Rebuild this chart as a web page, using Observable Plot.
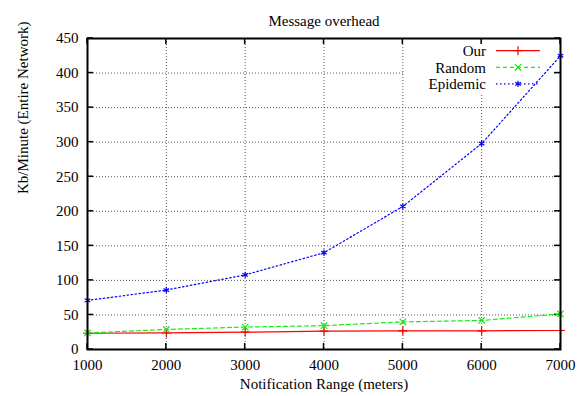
<!DOCTYPE html>
<html><head><meta charset="utf-8">
<script src="https://cdn.jsdelivr.net/npm/d3@7"></script>
<script src="https://cdn.jsdelivr.net/npm/@observablehq/plot@0.6"></script>
<style>body{margin:0;background:#fff} svg{display:block}</style>
</head><body><div id="chart"></div>
<script>
const ranges = [1000, 2000, 3000, 4000, 5000, 6000, 7000];
const our = [23.5, 24, 25, 26.5, 27, 27, 27.5];
const random = [24, 29, 32.5, 34.5, 40, 42, 51.5];
const epidemic = [71, 86, 108, 140, 207, 298, 425];
const seriesNames = ["Our", "Random", "Epidemic"];
const xTicks = [1000, 2000, 3000, 4000, 5000, 6000, 7000];
const yTicks = [0, 50, 100, 150, 200, 250, 300, 350, 400, 450];
const title = "Message overhead";
const xLabel = "Notification Range (meters)";
const yLabel = "Kb/Minute (Entire Network)";

const seriesValues = [our, random, epidemic];
const colors = ["#ff0000", "#11ee11", "#0000ff"];
const dashes = [null, "4,3", "1.5,2.5"];
const symbols = ["plus", "times", "asterisk"];

const data = seriesNames.flatMap((s, i) => ranges.map((x, j) => ({series: s, x, y: seriesValues[i][j]})));

const FONT = "Liberation Serif, Times New Roman, serif";

function keyMask(index, scales, values, dim) {
  const g = d3.create("svg:g");
  const right = dim.width - dim.marginRight, top = dim.marginTop;
  g.append("rect").attr("x", right - 155).attr("y", top + 5).attr("width", 150).attr("height", 50).attr("fill", "white");
  return g.node();
}

function ticksMark(index, scales, values, dim) {
  const g = d3.create("svg:g").attr("stroke", "black").attr("stroke-width", 1.5);
  const L = dim.marginLeft, R = dim.width - dim.marginRight, T = dim.marginTop, B = dim.height - dim.marginBottom;
  const len = 6;
  for (const v of xTicks) {
    const x = scales.x(v);
    g.append("line").attr("x1", x).attr("x2", x).attr("y1", B).attr("y2", B - len);
    g.append("line").attr("x1", x).attr("x2", x).attr("y1", T).attr("y2", T + len);
  }
  for (const v of yTicks) {
    const y = scales.y(v);
    g.append("line").attr("x1", L).attr("x2", L + len).attr("y1", y).attr("y2", y);
    g.append("line").attr("x1", R).attr("x2", R - len).attr("y1", y).attr("y2", y);
  }
  return g.node();
}

function legendMark(index, scales, values, dim) {
  const g = d3.create("svg:g");
  const right = dim.width - dim.marginRight, top = dim.marginTop;
  seriesNames.forEach((s, i) => {
    const cy = top + 12.7 + i * 16.6;
    g.append("text").attr("x", right - 74).attr("y", cy).attr("dy", "0.35em")
      .attr("text-anchor", "end").attr("font-family", FONT).attr("font-size", 15).attr("fill", "black").text(s);
    const ln = g.append("line").attr("x1", right - 64).attr("x2", right - 20).attr("y1", cy).attr("y2", cy)
      .attr("stroke", colors[i]).attr("stroke-width", 1.2);
    if (dashes[i]) ln.attr("stroke-dasharray", dashes[i]);
    const sym = {plus: d3.symbolPlus, times: d3.symbolTimes, asterisk: d3.symbolAsterisk}[symbols[i]];
    g.append("path").attr("transform", `translate(${right - 42},${cy})`)
      .attr("d", d3.symbol(sym, 3 * 3 * Math.PI)()).attr("fill", "none").attr("stroke", colors[i]).attr("stroke-width", 1.2);
  });
  return g.node();
}

const marks = [
  Plot.ruleX(xTicks.slice(1, -1), {stroke: "#555", strokeDasharray: "1,2", strokeWidth: 1}),
  Plot.ruleY(yTicks.slice(1, -1), {stroke: "#555", strokeDasharray: "1,2", strokeWidth: 1}),
  keyMask,
  ticksMark
];
seriesNames.forEach((s, i) => {
  const d = data.filter(r => r.series === s);
  marks.push(Plot.line(d, {x: "x", y: "y", stroke: colors[i], strokeWidth: 1.2, strokeDasharray: dashes[i] ?? undefined}));
  marks.push(Plot.dot(d, {x: "x", y: "y", symbol: () => symbols[i], r: 3, stroke: colors[i], strokeWidth: 1.2, fill: "none"}));
});
marks.push(
  legendMark,
  Plot.frame({stroke: "black", strokeWidth: 2}),
  Plot.axisX(xTicks, {tickSize: 0, tickPadding: 10, fontSize: 15, label: null, tickFormat: d3.format("d")}),
  Plot.axisY(yTicks, {tickSize: 0, tickPadding: 9, fontSize: 15, label: null, tickFormat: d3.format("d")}),
  Plot.text([title], {text: d => d, frameAnchor: "top", dy: -23, fontSize: 15}),
  Plot.text([xLabel], {text: d => d, frameAnchor: "bottom", dy: 39, fontSize: 15}),
  Plot.text([yLabel], {text: d => d, frameAnchor: "left", dx: -64, rotate: -90, fontSize: 15})
);

const chart = Plot.plot({
  width: 587,
  height: 396,
  marginLeft: 87,
  marginRight: 27,
  marginTop: 38,
  marginBottom: 47,
  x: {domain: [1000, 7000]},
  y: {domain: [0, 450]},
  symbol: {type: "identity"},
  style: {fontFamily: FONT, fontSize: "15px", color: "black", background: "white", overflow: "visible"},
  marks
});
document.getElementById("chart").appendChild(chart);
</script>
</body></html>
